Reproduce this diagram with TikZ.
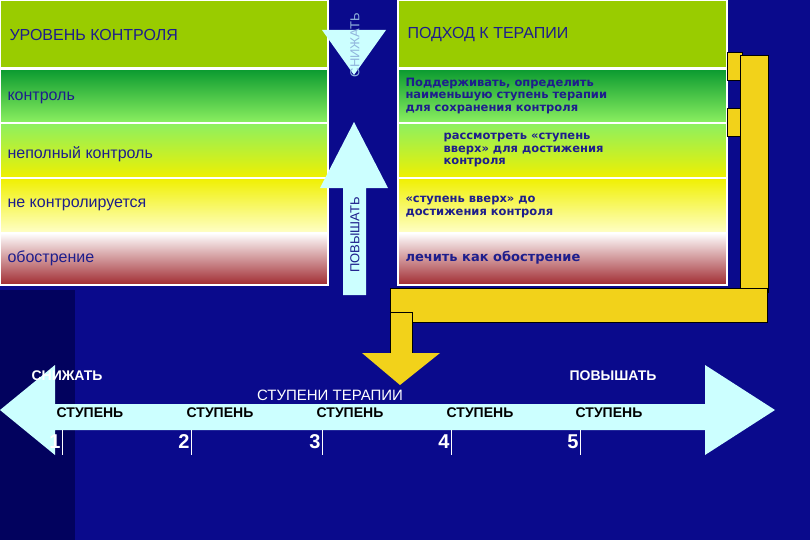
\documentclass[tikz,border=0pt]{standalone}
\usepackage{fontspec}
\setmainfont{Liberation Sans}
\newfontfamily\wide{DejaVu Sans}
\definecolor{bg}{HTML}{0A0A8C}
\definecolor{bgd}{HTML}{02025E}
\definecolor{navy}{HTML}{1E1E8C}
\definecolor{olive}{HTML}{99CC00}
\definecolor{dgreen}{HTML}{0A9A30}
\definecolor{lgreen}{HTML}{8CF060}
\definecolor{yel}{HTML}{F0F000}
\definecolor{lyel}{HTML}{FFFFC8}
\definecolor{dred}{HTML}{A02A30}
\definecolor{cyanl}{HTML}{CCFFFF}
\definecolor{gold}{HTML}{F2D21A}
\begin{document}
\begin{tikzpicture}[x=1pt,y=-1pt,
  cell/.style={draw=white,line width=1.5pt},
  ltxt/.style={anchor=west,text=navy,font=\fontsize{16}{18}\selectfont},
  rtxt/.style={anchor=west,text=navy,align=left,font=\wide\bfseries\fontsize{11.5}{12.5}\selectfont},
  yb/.style={fill=gold,draw=black,line width=0.4pt},
  wtxt/.style={text=white,font=\bfseries\fontsize{14}{16}\selectfont},
  stup/.style={text=black,font=\bfseries\fontsize{14}{16}\selectfont},
  num/.style={text=white,font=\bfseries\fontsize{20}{22}\selectfont}]
\useasboundingbox (0,0) rectangle (810,540);
\fill[bg] (0,0) rectangle (810,540);
\fill[bgd] (0,290) rectangle (75,540);
% left panel
\foreach \x/\w in {0/328,398/329}{
 \fill[olive,cell] (\x,0) rectangle ++(\w,68);
 \shade[top color=dgreen,bottom color=lgreen,cell] (\x,69) rectangle ++(\w,54);
 \shade[top color=lgreen,bottom color=yel,cell] (\x,123) rectangle ++(\w,55);
 \shade[top color=yel,bottom color=lyel,cell] (\x,178) rectangle ++(\w,55);
 \shade[top color=white,bottom color=dred,cell] (\x,233) rectangle ++(\w,52);
}
\node[ltxt] (h1) at (6,35) {УРОВЕНЬ КОНТРОЛЯ};
\node[ltxt] (l1) at (4,98) {контроль};
\node[ltxt] (l2) at (4,154) {неполный контроль};
\node[ltxt] (l3) at (4,205) {не контролируется};
\node[ltxt] (l4) at (4,258) {обострение};
\node[ltxt] (h2) at (404,35) {ПОДХОД К ТЕРАПИИ};
\node[rtxt] (r1) at (402,96) {Поддерживать, определить\\наименьшую ступень терапии\\для сохранения контроля};
\node[rtxt] (r2) at (440,150) {рассмотреть «ступень\\вверх» для достижения\\контроля};
\node[rtxt] (r3) at (402,207) {«ступень вверх» до\\достижения контроля};
\node[rtxt,font=\wide\bfseries\fontsize{13}{14}\selectfont] (r4) at (402,258) {лечить как обострение};
% middle arrows
\fill[cyanl] (322,30) -- (386,30) -- (354,75) -- cycle;
\node[rotate=90,text=cyanl!70!bg,font=\fontsize{13}{14}\selectfont] (sn) at (355,45) {СНИЖАТЬ};
\fill[cyanl] (354,122) -- (388,188) -- (366,188) -- (366,295) -- (343,295) -- (343,188) -- (320,188) -- cycle;
\node[rotate=90,text=navy,font=\fontsize{13}{14}\selectfont] (pv) at (355,235) {ПОВЫШАТЬ};
% yellow bracket
\draw[yb] (727,52) rectangle (742,80);
\draw[yb] (727,108) rectangle (742,136);
\draw[yb] (740,55) rectangle (768,292);
\draw[yb] (390,288) rectangle (767,322);
\draw[yb] (390,312) rectangle (412,355);
\fill[gold] (362,353) -- (440,353) -- (400,385) -- cycle;
% bottom double arrow
\fill[cyanl] (0,410) -- (55,365) -- (55,404) -- (705,404) -- (705,365) -- (775,410) -- (705,455) -- (705,430) -- (55,430) -- (55,455) -- cycle;
\node[wtxt,anchor=west] (sd) at (28,376) {СНИЖАТЬ};
\node[wtxt,anchor=west] (pw) at (566,376) {ПОВЫШАТЬ};
\node[wtxt,font=\fontsize{15}{17}\selectfont] (st) at (330,395) {СТУПЕНИ ТЕРАПИИ};
\foreach \i/\x in {1/90,2/220,3/350,4/480,5/609}{
 \node[stup] (s\i) at (\x,413) {СТУПЕНЬ};
}
\foreach \i/\x in {1/55,2/184,3/315,4/444,5/573}{
 \node[num] (n\i) at (\x,442) {\i};
 \draw[white,line width=1pt] (\x+7,430) -- (\x+7,455);
}
\end{tikzpicture}
\end{document}
